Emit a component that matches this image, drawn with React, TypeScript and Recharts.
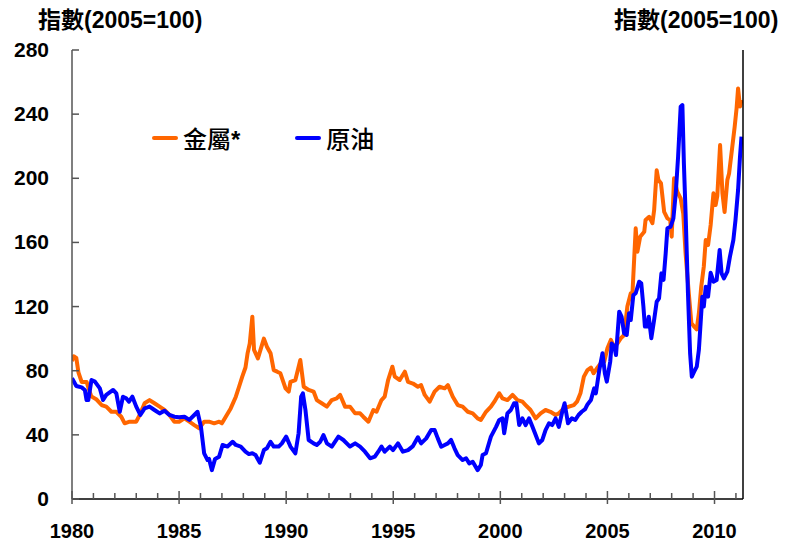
import React from "react";
import { LineChart, Line, XAxis, YAxis } from "recharts";

// 金屬* (metals) index, 2005 = 100
const metalYears = [
  1980.0, 1980.08, 1980.2, 1980.3, 1980.45, 1980.68, 1980.9, 1981.15, 1981.38, 1981.6,
  1981.84, 1982.07, 1982.3, 1982.46, 1982.69, 1983.0, 1983.16, 1983.39, 1983.62, 1983.85,
  1984.09, 1984.32, 1984.55, 1984.78, 1985.0, 1985.25, 1985.48, 1985.71, 1985.94, 1986.17,
  1986.4, 1986.64, 1986.87, 1987.0, 1987.18, 1987.41, 1987.65, 1987.8, 1987.95, 1988.1,
  1988.2, 1988.3, 1988.42, 1988.5, 1988.68, 1988.96, 1989.1, 1989.27, 1989.42, 1989.58,
  1989.73, 1989.97, 1990.12, 1990.2, 1990.43, 1990.66, 1990.82, 1991.05, 1991.28, 1991.43,
  1991.66, 1991.9, 1992.13, 1992.36, 1992.52, 1992.75, 1992.98, 1993.22, 1993.45, 1993.6,
  1993.84, 1994.07, 1994.22, 1994.45, 1994.6, 1994.76, 1994.96, 1995.07, 1995.3, 1995.54,
  1995.69, 1995.92, 1996.15, 1996.3, 1996.47, 1996.7, 1996.93, 1997.16, 1997.4, 1997.55,
  1997.78, 1998.01, 1998.24, 1998.48, 1998.71, 1998.94, 1999.09, 1999.33, 1999.56, 1999.72,
  1999.95, 2000.1, 2000.33, 2000.57, 2000.8, 2001.03, 2001.18, 2001.41, 2001.65, 2001.88,
  2002.11, 2002.34, 2002.58, 2002.73, 2002.96, 2003.2, 2003.43, 2003.58, 2003.74, 2003.9,
  2004.07, 2004.23, 2004.35, 2004.54, 2004.69, 2004.85, 2005.0, 2005.16, 2005.3, 2005.47,
  2005.62, 2005.78, 2005.93, 2006.09, 2006.16, 2006.32, 2006.4, 2006.53, 2006.72, 2006.78,
  2006.95, 2007.1, 2007.18, 2007.3, 2007.38, 2007.5, 2007.65, 2007.8, 2007.93, 2008.0,
  2008.11, 2008.26, 2008.42, 2008.54, 2008.65, 2008.8, 2008.92, 2009.02, 2009.17, 2009.27,
  2009.38, 2009.5, 2009.59, 2009.7, 2009.82, 2009.95, 2010.05, 2010.13, 2010.26, 2010.37,
  2010.47, 2010.6, 2010.68, 2010.83, 2010.94, 2011.03, 2011.1, 2011.19, 2011.26,
];
const metalValues = [
  86, 89, 88, 79, 73, 73, 64, 62, 58.6, 57.6,
  54.4, 54.4, 51.3, 47.2, 48.2, 48.2, 52.4, 59.7, 61.7, 59.7,
  57.6, 55.5, 52.4, 48.2, 48.2, 50.3, 48.2, 46.1, 44.1, 48.2,
  48.2, 47.2, 48.2, 47.2, 51.3, 56.5, 63.8, 70, 76.3, 82,
  91, 97, 113.7, 93, 87.7, 100, 95, 90.9, 80.4, 79.4,
  78.4, 69, 67, 73, 74.2, 86.7, 70, 68, 67, 61.7,
  59.7, 57.6, 61.7, 62.8, 64.9, 57.6, 57.6, 53.4, 53.4, 51.3,
  48.2, 55.5, 54.4, 61.7, 63.8, 74.2, 82.5, 76.3, 74.2, 79.4,
  73, 72, 70, 71, 64.9, 60.7, 67, 70, 69, 71,
  63.8, 58.6, 57.6, 54.4, 53.4, 50.3, 49.3, 54.4, 57.6, 60.7,
  65.9, 62.8, 61.7, 64.9, 61.7, 60.7, 58.6, 55.5, 50.3, 53.4,
  55.5, 54.4, 52.4, 53.4, 56.5, 57.6, 58.6, 60.7, 65.9, 76.3,
  80.4, 82, 78.4, 82, 84.6, 85.6, 94, 99.2, 95, 97,
  100.2, 102.3, 120, 128.3, 126, 168.8, 154.2, 163.6, 166.7, 174,
  176, 172, 180, 205, 199, 196.9, 179, 175, 174, 163.6,
  200, 191.6, 187.5, 178, 153, 128, 109.6, 108, 105.8, 115.8,
  132.4, 145, 161.5, 158.4, 170.9, 190.6, 183.3, 189, 220.7, 190.6,
  179, 199, 203, 219.7, 232, 243.6, 256, 244.7, 248.8,
];

// 原油 (crude oil) index, 2005 = 100
const oilYears = [
  1980.0, 1980.2, 1980.45, 1980.6, 1980.68, 1980.76, 1980.91, 1981.07, 1981.3, 1981.45,
  1981.6, 1981.92, 1982.07, 1982.23, 1982.38, 1982.53, 1982.66, 1982.82, 1983.0, 1983.19,
  1983.39, 1983.62, 1983.85, 1984.09, 1984.32, 1984.55, 1984.78, 1985.0, 1985.25, 1985.48,
  1985.71, 1985.86, 1986.02, 1986.17, 1986.33, 1986.4, 1986.53, 1986.68, 1986.87, 1987.03,
  1987.26, 1987.5, 1987.65, 1987.88, 1988.1, 1988.26, 1988.42, 1988.57, 1988.77, 1988.96,
  1989.1, 1989.27, 1989.42, 1989.65, 1989.8, 1990.0, 1990.2, 1990.43, 1990.58, 1990.7,
  1990.78, 1990.9, 1991.05, 1991.28, 1991.43, 1991.59, 1991.74, 1991.9, 1992.13, 1992.44,
  1992.67, 1992.98, 1993.22, 1993.45, 1993.68, 1993.92, 1994.14, 1994.3, 1994.45, 1994.6,
  1994.84, 1994.99, 1995.22, 1995.45, 1995.69, 1995.92, 1996.15, 1996.3, 1996.54, 1996.77,
  1996.93, 1997.08, 1997.24, 1997.4, 1997.55, 1997.7, 1997.86, 1998.01, 1998.24, 1998.4,
  1998.55, 1998.71, 1998.94, 1999.09, 1999.17, 1999.33, 1999.56, 1999.8, 1999.95, 2000.1,
  2000.18, 2000.33, 2000.49, 2000.64, 2000.75, 2000.88, 2001.03, 2001.18, 2001.34, 2001.5,
  2001.65, 2001.8, 2001.96, 2002.11, 2002.27, 2002.42, 2002.58, 2002.73, 2002.89, 2003.0,
  2003.16, 2003.34, 2003.5, 2003.65, 2003.8, 2003.96, 2004.07, 2004.23, 2004.38, 2004.46,
  2004.62, 2004.77, 2004.88, 2004.97, 2005.13, 2005.2, 2005.32, 2005.4, 2005.55, 2005.66,
  2005.78, 2005.9, 2006.01, 2006.09, 2006.21, 2006.32, 2006.48, 2006.58, 2006.68, 2006.75,
  2006.85, 2006.93, 2007.05, 2007.18, 2007.3, 2007.41, 2007.52, 2007.62, 2007.72, 2007.8,
  2007.95, 2008.08, 2008.19, 2008.3, 2008.42, 2008.5, 2008.57, 2008.65, 2008.76, 2008.86,
  2008.94, 2009.05, 2009.17, 2009.27, 2009.35, 2009.43, 2009.5, 2009.59, 2009.7, 2009.82,
  2009.95, 2010.1, 2010.24, 2010.33, 2010.44, 2010.6, 2010.72, 2010.88, 2010.98, 2011.1,
  2011.19, 2011.26,
];
const oilValues = [
  75.3, 70.5, 69.6, 68, 61.7, 61.7, 74.2, 73.2, 69, 61.7,
  64.9, 68, 65.9, 54.4, 63.8, 62.8, 60.7, 63.8, 57.6, 52.4,
  56.5, 57.6, 55.5, 53.4, 55, 52.4, 51.3, 51, 51.3, 49.3,
  52.4, 54.4, 45.1, 28.5, 24.3, 25, 18, 25, 26.4, 33.7,
  32.7, 35.7, 33.7, 32.7, 29.5, 28, 28.5, 27.4, 22.6, 30.5,
  31.6, 35.7, 32.7, 32.7, 34.7, 38.9, 32.7, 28.5, 41, 63.8,
  65.9, 55.5, 36.8, 34.7, 33.7, 35.7, 39.9, 34.7, 32.7, 38.9,
  36.8, 32.7, 34.7, 32.7, 29.5, 25.4, 26.4, 29.5, 32.7, 29.5,
  32.7, 30.5, 34.7, 29.5, 30.5, 33, 38.5, 34.7, 37.8, 43,
  43, 37.8, 32.6, 33.7, 34.7, 36.8, 31.6, 27.4, 24.3, 25.4,
  22.2, 23.2, 18, 21.2, 27.4, 28.5, 38.9, 45, 49.3, 50.3,
  41, 53.4, 55.5, 59.7, 59.7, 46.1, 50.3, 46.1, 50.3, 45,
  39.9, 34.7, 36.8, 43, 47.2, 46.1, 50.3, 45, 54.4, 59.7,
  47.2, 50.3, 49.3, 52.4, 54.4, 56, 59, 61.7, 69, 65.9,
  80.4, 90.9, 78.4, 73.2, 85.6, 97, 95, 89.8, 116.8, 113.7,
  103.3, 102.3, 115.8, 111.6, 127.2, 128.3, 135.5, 134.5, 120, 107.5,
  107.5, 113.7, 100.2, 111.6, 123, 125.1, 140.7, 136.6, 153.2, 168.8,
  169.8, 175, 190.6, 213.5, 244.7, 245.7, 209.3, 178, 128.3, 90.9,
  76.3, 79.4, 82.5, 93, 109.6, 126.2, 120, 132.4, 126.2, 141.1,
  135.5, 136.6, 155.3, 140.7, 137.6, 141.8, 151.1, 161.5, 174, 192.7,
  213.5, 226,
];

const yTicks = [0, 40, 80, 120, 160, 200, 240, 280];
const yearTicks = Array.from({ length: 32 }, (_, i) => 1980 + i);

const metalData = metalYears.map((x, i) => ({ x, v: metalValues[i] }));
const oilData = oilYears.map((x, i) => ({ x, v: oilValues[i] }));

const ORANGE = "#FF6600";
const BLUE = "#0000FF";
const FONT = "'Liberation Sans', Arial, sans-serif";
const CJK = "'Liberation Sans', 'Noto Sans CJK TC', sans-serif";

const LeftTick = (props: any) => {
  const { x, y, payload } = props;
  return (
    <g>
      <line x1={x} x2={x + 7} y1={y} y2={y} stroke="#555" strokeWidth={1.5} />
      <text x={x - 23} y={y + 7} textAnchor="end" fontFamily={FONT} fontWeight="bold" fontSize={21} fill="#000">
        {payload.value}
      </text>
    </g>
  );
};

const RightTick = (props: any) => {
  const { x, y, payload } = props;
  return (
    <g>
      <line x1={x} x2={x - 7} y1={y} y2={y} stroke="#555" strokeWidth={1.5} />
      <text x={x + 15} y={y + 7} textAnchor="start" fontFamily={FONT} fontWeight="bold" fontSize={21} fill="#000">
        {payload.value}
      </text>
    </g>
  );
};

const YearTick = (props: any) => {
  const { x, y, payload } = props;
  const major = payload.value % 5 === 0;
  return (
    <g>
      <line x1={x} x2={x} y1={major ? y + 5 : y} y2={major ? y - 8 : y - 6} stroke="#555" strokeWidth={1.5} />
      {major && (
        <text x={x} y={y + 39} textAnchor="middle" fontFamily={FONT} fontWeight="bold" fontSize={20} fill="#000">
          {payload.value}
        </text>
      )}
    </g>
  );
};

export default function App() {
  return (
    <div style={{ position: "absolute", left: 0, top: 0, width: 800, height: 545, background: "#fff" }}>
      <LineChart width={800} height={545} margin={{ top: 50, right: 0, bottom: 0, left: 0 }}>
        <XAxis
          dataKey="x"
          type="number"
          domain={[1980, 2011.33]}
          ticks={yearTicks}
          interval={0}
          allowDataOverflow
          height={46}
          tickSize={0}
          tickMargin={0}
          tickLine={false}
          axisLine={{ stroke: "#000", strokeWidth: 1.5 }}
          tick={<YearTick />}
        />
        <YAxis
          yAxisId="left"
          orientation="left"
          domain={[0, 280]}
          ticks={yTicks}
          interval={0}
          width={72}
          tickSize={0}
          tickMargin={0}
          tickLine={false}
          axisLine={{ stroke: "#555", strokeWidth: 1.5 }}
          tick={<LeftTick />}
        />
        <YAxis
          yAxisId="right"
          orientation="right"
          domain={[0, 280]}
          ticks={yTicks}
          interval={0}
          width={57}
          tickSize={0}
          tickMargin={0}
          tickLine={false}
          axisLine={{ stroke: "#000", strokeWidth: 1.5 }}
          tick={<RightTick />}
        />
        <Line
          yAxisId="left"
          data={metalData}
          dataKey="v"
          type="linear"
          stroke={ORANGE}
          strokeWidth={4}
          dot={false}
          activeDot={false}
          strokeLinejoin="round"
          isAnimationActive={false}
        />
        <Line
          yAxisId="left"
          data={oilData}
          dataKey="v"
          type="linear"
          stroke={BLUE}
          strokeWidth={4}
          dot={false}
          activeDot={false}
          strokeLinejoin="round"
          isAnimationActive={false}
        />
      </LineChart>

      <div style={{ position: "absolute", left: 38, top: 8, fontFamily: CJK, fontWeight: "bold", fontSize: 23, lineHeight: "24px", whiteSpace: "nowrap" }}>
        指數(2005=100)
      </div>
      <div style={{ position: "absolute", left: 614, top: 8, fontFamily: CJK, fontWeight: "bold", fontSize: 23, lineHeight: "24px", whiteSpace: "nowrap" }}>
        指數(2005=100)
      </div>

      <div style={{ position: "absolute", left: 152, top: 127, display: "flex", alignItems: "center", fontFamily: CJK, fontWeight: 500, fontSize: 24, lineHeight: "26px", whiteSpace: "nowrap" }}>
        <span style={{ display: "inline-block", width: 26, height: 4, background: ORANGE, borderRadius: 2, marginRight: 5, position: "relative", top: -2 }} />
        <span>金屬<b>*</b></span>
        <span style={{ display: "inline-block", width: 26, height: 4, background: BLUE, borderRadius: 2, marginLeft: 55, marginRight: 5, position: "relative", top: -2 }} />
        <span>原油</span>
      </div>
    </div>
  );
}
